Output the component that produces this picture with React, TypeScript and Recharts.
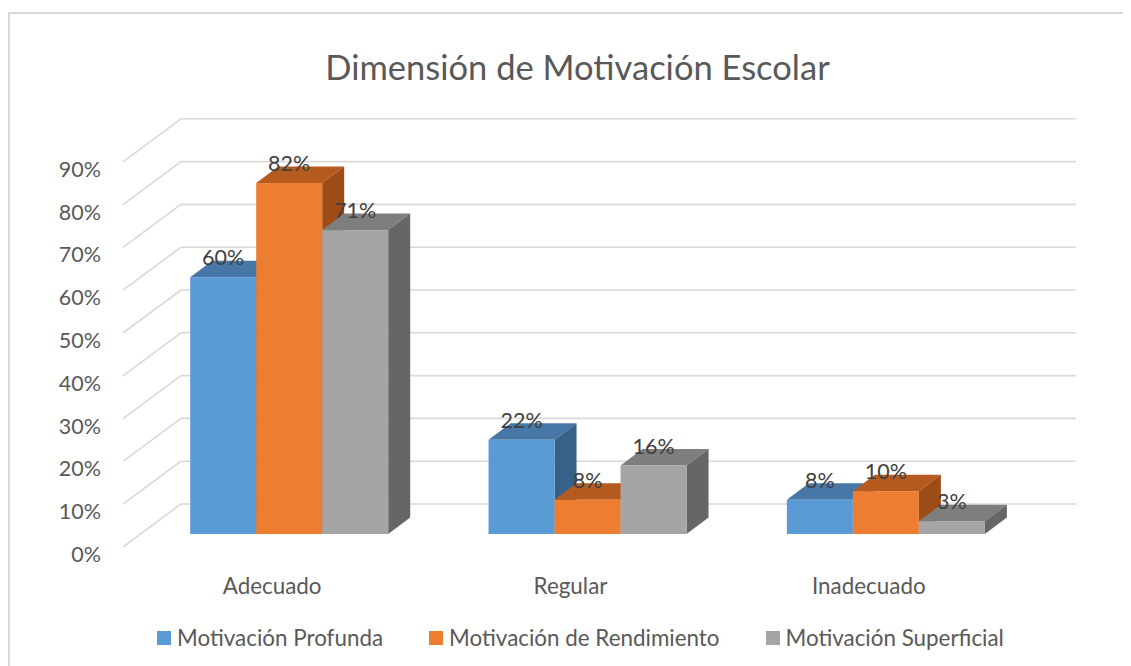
import React from 'react';
import { BarChart, Bar, XAxis, YAxis, CartesianGrid, LabelList, Legend, Customized } from 'recharts';

const categories = ['Adecuado', 'Regular', 'Inadecuado'];
const profunda = [60, 22, 8];
const rendimiento = [82, 8, 10];
const superficial = [71, 16, 3];
const yTicks = [0, 10, 20, 30, 40, 50, 60, 70, 80, 90];
const seriesNames = ['Motivación Profunda', 'Motivación de Rendimiento', 'Motivación Superficial'];
const title = 'Dimensión de Motivación Escolar';

const data = categories.map((c, i) => ({
  name: c,
  profunda: profunda[i],
  rendimiento: rendimiento[i],
  superficial: superficial[i],
}));

const FONT = 'Lato, "Open Sans", sans-serif';
const TEXT = '#595959';
const DX = 22;
const DY = -16.5;
// grid geometry relative to bar-front plane
const BACK_DX = 40.5;
const BACK_DY = -30;
const FRONT_DX = -17.5;
const FRONT_DY = 13;

const palette = {
  profunda: { front: '#5B9BD5', top: '#4677A6', side: '#386189' },
  rendimiento: { front: '#ED7D31', top: '#B55B20', side: '#9D4C18' },
  superficial: { front: '#A5A5A5', top: '#7E7E7E', side: '#666666' },
};

const make3D = (c: { front: string; top: string; side: string }) => (props: any) => {
  const { x, y, width: w, height: h } = props;
  if (h == null || w == null) return null;
  return (
    <g>
      <polygon points={`${x},${y} ${x + DX},${y + DY} ${x + w + DX},${y + DY} ${x + w},${y}`} fill={c.top} />
      <polygon points={`${x + w},${y} ${x + w + DX},${y + DY} ${x + w + DX},${y + h + DY} ${x + w},${y + h}`} fill={c.side} />
      <rect x={x} y={y} width={w} height={h} fill={c.front} />
    </g>
  );
};

const GridLine = (props: any) => {
  const { x1, x2, y1 } = props;
  const bx1 = x1 + BACK_DX;
  const bx2 = x2 + BACK_DX;
  const by = y1 + BACK_DY;
  return (
    <g key={props.key}>
      <line x1={bx1} y1={by} x2={bx2} y2={by} stroke="#d9d9d9" strokeWidth={1.6} />
      <line x1={bx1} y1={by} x2={x1 + FRONT_DX} y2={y1 + FRONT_DY} stroke="#d9d9d9" strokeWidth={1.6} />
    </g>
  );
};

const YTick = (props: any) => {
  const { x, y, payload } = props;
  return (
    <text x={x - 39.5} y={y + 20} textAnchor="end" dominantBaseline="central" fill={TEXT} fontFamily={FONT} fontSize={21.5}>
      {`${payload.value}%`}
    </text>
  );
};

const XTick = (props: any) => {
  const { x, y, payload } = props;
  return (
    <text x={x + FRONT_DX} y={y + 51} textAnchor="middle" dominantBaseline="central" fill={TEXT} fontFamily={FONT} fontSize={22.4}>
      {payload.value}
    </text>
  );
};

const ValueLabel = (props: any) => {
  const { x, y, width, value } = props;
  return (
    <text x={x + width / 2} y={y - 20} textAnchor="middle" dominantBaseline="central" fill="#404040" fontFamily={FONT} fontSize={21.5}>
      {`${value}%`}
    </text>
  );
};

const LegendContent = () => {
  const cols = [palette.profunda.front, palette.rendimiento.front, palette.superficial.front];
  return (
    <div style={{ display: 'flex', justifyContent: 'center', alignItems: 'center', gap: 46 }}>
      {seriesNames.map((n, i) => (
        <div key={n} style={{ display: 'flex', alignItems: 'center' }}>
          <span style={{ display: 'inline-block', width: 14, height: 14, background: cols[i], marginRight: 6 }} />
          <span style={{ fontFamily: FONT, fontSize: 22.4, color: TEXT, lineHeight: '24px' }}>{n}</span>
        </div>
      ))}
    </div>
  );
};

const Title = () => (
  <text x={569.5} y={58} textAnchor="middle" dominantBaseline="central" fill={TEXT} fontFamily={FONT} fontSize={34.5}>
    {title}
  </text>
);

export default function App() {
  return (
    <div style={{ position: 'relative', width: 1123, height: 658, overflow: 'hidden', background: '#fff' }}>
      <div style={{ position: 'absolute', left: 0, top: 4, width: 1300, height: 900, border: '2px solid #d9d9d9', boxSizing: 'border-box' }} />
      <BarChart
        width={1123}
        height={658}
        data={data}
        margin={{ top: 140.8, right: 95.5, left: 72.5, bottom: 102 }}
        barCategoryGap={49.7}
        barGap={0}
        style={{ position: 'absolute', left: 0, top: 0 }}
      >
        <CartesianGrid vertical={false} horizontal={GridLine} />
        <XAxis dataKey="name" height={30} axisLine={false} tickLine={false} tickSize={0} tickMargin={0} tick={XTick} interval={0} />
        <YAxis width={60} domain={[0, 90]} ticks={yTicks} axisLine={false} tickLine={false} tickSize={0} tickMargin={0} tick={YTick} interval={0} />
        <Bar dataKey="profunda" name={seriesNames[0]} fill={palette.profunda.front} shape={make3D(palette.profunda)} isAnimationActive={false}>
          <LabelList dataKey="profunda" content={ValueLabel} />
        </Bar>
        <Bar dataKey="rendimiento" name={seriesNames[1]} fill={palette.rendimiento.front} shape={make3D(palette.rendimiento)} isAnimationActive={false}>
          <LabelList dataKey="rendimiento" content={ValueLabel} />
        </Bar>
        <Bar dataKey="superficial" name={seriesNames[2]} fill={palette.superficial.front} shape={make3D(palette.superficial)} isAnimationActive={false}>
          <LabelList dataKey="superficial" content={ValueLabel} />
        </Bar>
        <Legend layout="horizontal" verticalAlign="middle" align="center" content={LegendContent} wrapperStyle={{ top: 618, left: 0, width: 1145 }} />
        <Customized component={Title} />
      </BarChart>
    </div>
  );
}
